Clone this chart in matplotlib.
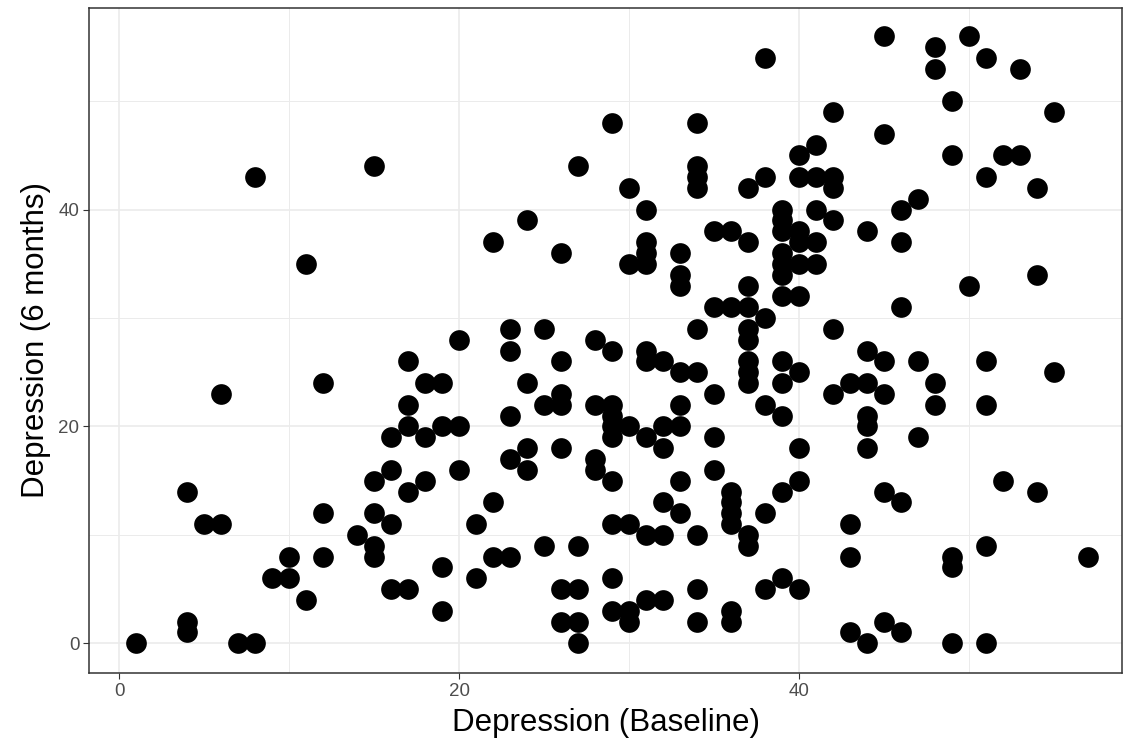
import matplotlib.pyplot as plt
import numpy as np

# baseline and 6-month depression scores
baseline = [1, 4, 4, 4, 5, 6, 6, 7, 8, 8, 9, 10, 10, 11, 11, 12, 12, 12, 14,
            15, 15, 15, 15, 15, 16, 16, 16, 16, 17, 17, 17, 17, 17, 18, 18, 18,
            19, 19, 19, 19, 20, 20, 20, 21, 21, 22, 22, 22, 23, 23, 23, 23, 23,
            24, 24, 24, 24, 25, 25, 25, 26, 26, 26, 26, 26, 26, 26,
            27, 27, 27, 27, 27, 28, 28, 28, 28,
            29, 29, 29, 29, 29, 29, 29, 29, 29, 29, 30, 30, 30, 30, 30, 30,
            31, 31, 31, 31, 31, 31, 31, 31, 31, 32, 32, 32, 32, 32, 32,
            33, 33, 33, 33, 33, 33, 33, 33, 34, 34, 34, 34, 34, 34, 34, 34, 34,
            35, 35, 35, 35, 35, 36, 36, 36, 36, 36, 36, 36, 36,
            37, 37, 37, 37, 37, 37, 37, 37, 37, 37, 37, 38, 38, 38, 38, 38, 38,
            39, 39, 39, 39, 39, 39, 39, 39, 39, 39, 39, 39,
            40, 40, 40, 40, 40, 40, 40, 40, 40, 40, 41, 41, 41, 41, 41,
            42, 42, 42, 42, 42, 42, 43, 43, 43, 43, 44, 44, 44, 44, 44, 44, 44,
            45, 45, 45, 45, 45, 45, 46, 46, 46, 46, 46, 47, 47, 47,
            48, 48, 48, 48, 49, 49, 49, 49, 49, 50, 50,
            51, 51, 51, 51, 51, 51, 52, 52, 53, 53, 54, 54, 54, 55, 55, 57]
six_months = [0, 1, 2, 14, 11, 11, 23, 0, 0, 43, 6, 6, 8, 4, 35, 8, 12, 24, 10,
              8, 9, 12, 15, 44, 5, 11, 16, 19, 5, 14, 20, 22, 26, 15, 19, 24,
              3, 7, 20, 24, 16, 20, 28, 6, 11, 8, 13, 37, 8, 17, 21, 27, 29,
              16, 18, 24, 39, 9, 22, 29, 2, 5, 18, 22, 23, 26, 36,
              0, 2, 5, 9, 44, 16, 17, 22, 28,
              3, 6, 11, 15, 19, 20, 21, 22, 27, 48, 2, 3, 11, 20, 35, 42,
              4, 10, 19, 26, 27, 35, 36, 37, 40, 4, 10, 13, 18, 20, 26,
              12, 15, 20, 22, 25, 33, 34, 36, 2, 5, 10, 25, 29, 42, 43, 44, 48,
              16, 19, 23, 31, 38, 2, 3, 11, 12, 13, 14, 31, 38,
              9, 10, 24, 25, 26, 28, 29, 31, 33, 37, 42, 5, 12, 22, 30, 43, 54,
              6, 14, 21, 24, 26, 32, 34, 35, 36, 38, 39, 40,
              5, 15, 18, 25, 32, 35, 37, 38, 43, 45, 35, 37, 40, 43, 46,
              23, 29, 39, 42, 43, 49, 1, 8, 11, 24, 0, 18, 20, 21, 24, 27, 38,
              2, 14, 23, 26, 47, 56, 1, 13, 31, 37, 40, 19, 26, 41,
              22, 24, 53, 55, 0, 7, 8, 45, 50, 33, 56,
              0, 9, 22, 26, 43, 54, 15, 45, 45, 53, 14, 34, 42, 25, 49, 8]

xticks = [0, 20, 40]
yticks = [0, 20, 40]

plt.rcParams['font.family'] = ['Liberation Sans', 'DejaVu Sans']

fig = plt.figure(figsize=(11.3, 7.49), dpi=100)
ax = fig.add_axes([89 / 1130, 76 / 749, (1122 - 89) / 1130, (673 - 8) / 749])

ax.scatter(baseline, six_months, s=222, color='black', linewidths=0, zorder=3)

ax.set_xlim(-1.78, 58.98)
ax.set_ylim(-2.74, 58.6)
ax.set_xticks(xticks)
ax.set_yticks(yticks)
ax.set_xticks([10, 30, 50], minor=True)
ax.set_yticks([10, 30, 50], minor=True)
ax.grid(which='major', color='#EBEBEB', linewidth=1.2, zorder=0)
ax.grid(which='minor', color='#EBEBEB', linewidth=0.7, zorder=0)
ax.tick_params(which='minor', length=0)
ax.tick_params(which='major', length=4, width=0.8, color='#333333',
               labelsize=13.5, labelcolor='#4D4D4D', pad=3)
for sp in ax.spines.values():
    sp.set_color('#333333')
    sp.set_linewidth(1.1)
ax.set_axisbelow(True)

ax.set_xlabel('Depression (Baseline)', fontsize=22.5, labelpad=6)
ax.set_ylabel('Depression (6 months)', fontsize=22.5, labelpad=5)

fig.savefig('out.png', dpi=100)
